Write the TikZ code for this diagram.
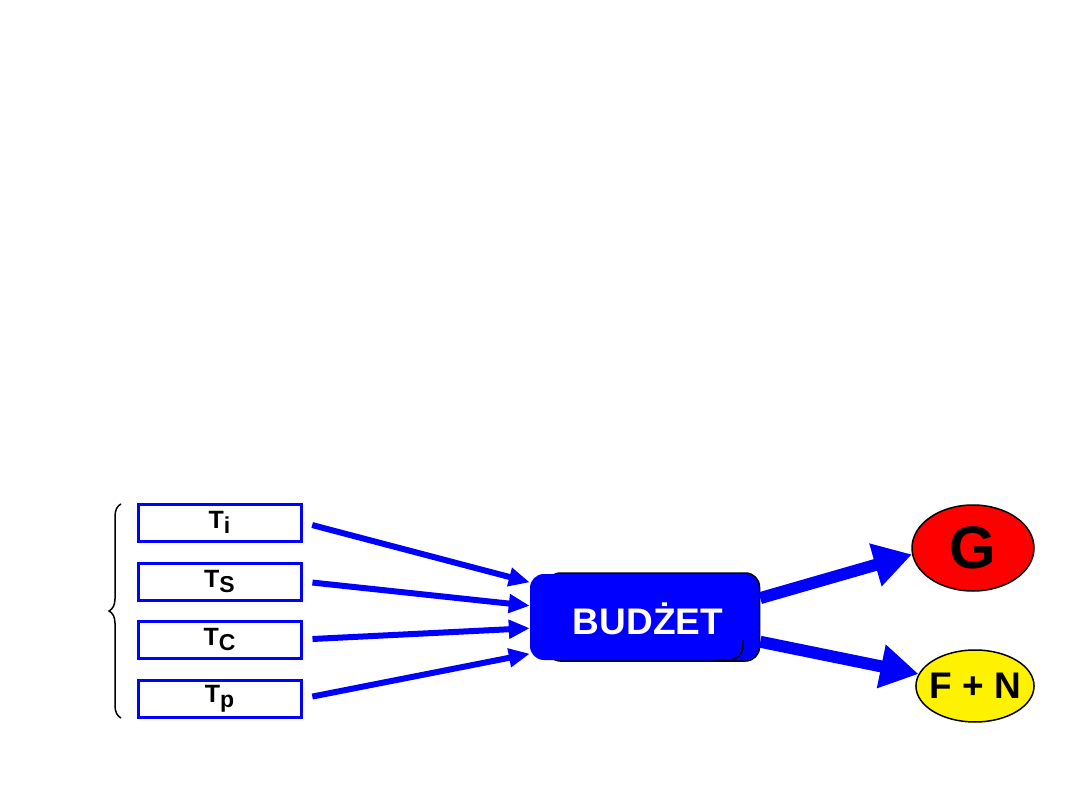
\documentclass[tikz,border=0pt]{standalone}
\usepackage{fontspec}
\setmainfont{Liberation Sans}
\usetikzlibrary{arrows.meta,shapes.geometric,decorations.pathreplacing}
\newcommand{\low}[1]{\raisebox{-5pt}{\fontsize{23}{23}\selectfont #1}}
\tikzset{
tbox/.style={draw=blue,line width=3pt,fill=white,minimum width=163pt,minimum height=37pt,inner sep=0pt,font=\fontsize{25}{25}\selectfont\bfseries},
inarrow/.style={draw=blue,line width=6pt,-{Triangle[length=21pt,width=18pt]},shorten <=10pt},
outarrow/.style={draw=blue,line width=12pt,-{Triangle[length=38pt,width=42pt]}},
goal/.style={ellipse,draw=black,line width=1.5pt,inner sep=0pt,font=\bfseries}
}
\begin{document}
\begin{tikzpicture}[x=1pt,y=-1pt]
\useasboundingbox[fill=white] (0,0) rectangle (1080,810);
\node[tbox] (ti) at (219.5,522.5) {T\low{i}};
\node[tbox] (ts) at (219.5,581.5) {T\low{S}};
\node[tbox] (tc) at (219.5,639.5) {T\low{C}};
\node[tbox] (tp) at (219.5,698.5) {T\low{p}};
\draw[line width=1.5pt,decorate,decoration={brace,amplitude=12pt}] (121,718) -- (121,504);
\node[draw=black,line width=1.5pt,fill=blue,rounded corners=14pt,minimum width=213pt,minimum height=88pt] (back) at (653,617) {};
\node[fill=blue,rounded corners=14pt,minimum width=213pt,minimum height=86pt] (budzet) at (636.5,617) {};
\draw[black,line width=1.5pt,rounded corners=14pt] (743,640) -- (743,660) -- (715,660);
\node[text=white,font=\fontsize{37}{37}\selectfont\bfseries] (budzettext) at (648,619) {BUDŻET};
\node[goal,fill=red,minimum width=122pt,minimum height=86pt,font=\fontsize{60}{60}\selectfont\bfseries] (g) at (973,548) {G};
\node[goal,fill=yellow,inner xsep=-4pt,inner ysep=-4pt,minimum width=118pt,minimum height=72pt,font=\fontsize{37}{37}\selectfont\bfseries] (fn) at (975,686) {F + N};
\draw[inarrow] (ti.east) -- (budzet.162);
\draw[inarrow] (ts.east) -- (budzet.174);
\draw[inarrow] (tc.east) -- (budzet.186);
\draw[inarrow] (tp.east) -- (budzet.199);
\draw[outarrow] (back.10) -- (g.186);
\draw[outarrow] (back.347) -- (fn.168);
\end{tikzpicture}
\end{document}
